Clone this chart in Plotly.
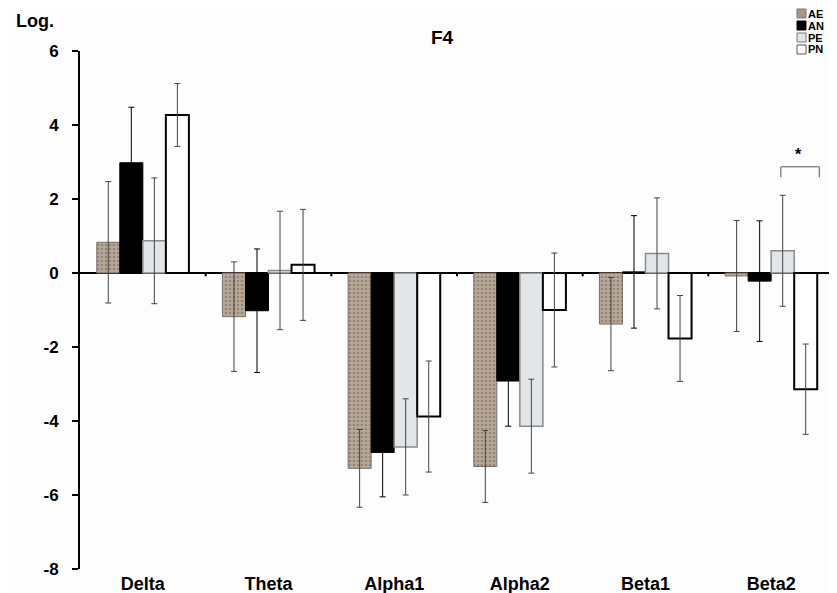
import plotly.graph_objects as go

categories = ["Delta", "Theta", "Alpha1", "Alpha2", "Beta1", "Beta2"]
series_names = ["AE", "AN", "PE", "PN"]
ae_values = [0.83, -1.18, -5.28, -5.23, -1.38, -0.08]
an_values = [2.98, -1.02, -4.85, -2.92, 0.03, -0.22]
pe_values = [0.87, 0.07, -4.70, -4.14, 0.53, 0.60]
pn_values = [4.27, 0.22, -3.88, -1.00, -1.77, -3.14]
ae_errors = [1.64, 1.48, 1.05, 0.97, 1.26, 1.50]
an_errors = [1.50, 1.67, 1.20, 1.22, 1.52, 1.63]
pe_errors = [1.70, 1.60, 1.30, 1.27, 1.50, 1.50]
pn_errors = [0.85, 1.50, 1.50, 1.54, 1.16, 1.22]
y_ticks = [-8, -6, -4, -2, 0, 2, 4, 6]

FONT = "Liberation Sans, Arial, sans-serif"

styles = {
    "AE": dict(color="#b3a393", line=dict(color="#7a7068", width=1),
               pattern=dict(shape=".", fgcolor="#6f6257", bgcolor="#b8a898", size=4, solidity=0.35)),
    "AN": dict(color="#000000", line=dict(color="#000000", width=1)),
    "PE": dict(color="#e3e6e9", line=dict(color="#8a8a8a", width=1.5)),
    "PN": dict(color="#ffffff", line=dict(color="#000000", width=2)),
}
err_colors = {"AE": "#444444", "AN": "#000000", "PE": "#444444", "PN": "#444444"}
legend_colors = {"AE": "#a89887", "AN": "#000000", "PE": "#e3e6e9", "PN": "#ffffff"}
legend_lines = {"AE": "#777777", "AN": "#000000", "PE": "#777777", "PN": "#555555"}

values = [ae_values, an_values, pe_values, pn_values]
errors = [ae_errors, an_errors, pe_errors, pn_errors]

fig = go.Figure()
for name, vals, errs in zip(series_names, values, errors):
    fig.add_trace(go.Bar(
        x=categories, y=vals, name=name,
        marker=styles[name],
        error_y=dict(type="data", array=errs, visible=True, color=err_colors[name], thickness=1, width=3),
        showlegend=False,
    ))

# the page body has an 8px margin; work in page pixels and shift
OFF = 8
FIG_W, FIG_H = 837 - OFF, 593 - OFF
L, R, T, B = 80, 835, 51, 569          # plot area in page pixels
W, H = R - L, B - T

def px_x(px):
    return (px - L) / W

def px_y(py):
    return (B - py) / H

shapes = []
annotations = []

# small category boundary ticks on the zero line
for i in range(len(categories)):
    shapes.append(dict(type="line", xref="x", yref="y", x0=i + 0.5, x1=i + 0.5, y0=0, y1=-0.09,
                       line=dict(color="black", width=2)))

# significance bracket on Beta2 (PE vs PN)
shapes.append(dict(type="path", xref="x", yref="y",
                   path="M 5.077,2.59 L 5.077,2.87 L 5.383,2.87 L 5.383,2.59",
                   line=dict(color="#555555", width=1)))
annotations.append(dict(x=5.214, y=3.19, xref="x", yref="y", text="<b>*</b>", showarrow=False,
                        font=dict(family=FONT, size=16, color="black")))

# custom legend
legend_rows = [13.5, 25.5, 37.5, 49.5]
for name, cy in zip(series_names, legend_rows):
    shapes.append(dict(type="rect", xref="paper", yref="paper",
                       x0=px_x(797), x1=px_x(806), y0=px_y(cy + 4.5), y1=px_y(cy - 4.5),
                       fillcolor=legend_colors[name], line=dict(color=legend_lines[name], width=1)))
    annotations.append(dict(x=px_x(807), y=px_y(cy), xref="paper", yref="paper", text="<b>%s</b>" % name,
                            showarrow=False, xanchor="left", yanchor="middle", borderpad=0,
                            font=dict(family=FONT, size=11, color="black")))

annotations.append(dict(x=px_x(14), y=px_y(21), xref="paper", yref="paper", text="<b>Log.</b>",
                        showarrow=False, xanchor="left", yanchor="middle",
                        font=dict(family=FONT, size=18, color="black")))
annotations.append(dict(x=px_x(442), y=px_y(37), xref="paper", yref="paper", text="<b>F4</b>",
                        showarrow=False, xanchor="center", yanchor="middle",
                        font=dict(family=FONT, size=19, color="black")))

fig.update_layout(
    width=FIG_W, height=FIG_H,
    margin=dict(l=L - OFF, r=837 - R, t=T - OFF, b=593 - B, autoexpand=False),
    paper_bgcolor="#fdfdfd", plot_bgcolor="#fdfdfd",
    barmode="group", bargap=0.267, bargroupgap=0,
    shapes=shapes, annotations=annotations,
    font=dict(family=FONT, color="black"),
)
fig.update_xaxes(
    showline=False, showgrid=False, zeroline=False, ticks="",
    tickfont=dict(family=FONT, size=18, color="black"),
    tickprefix="<b>", ticksuffix="</b>",
    ticklabelstandoff=2, automargin=False,
)
fig.update_yaxes(
    range=[-8, 6], tickvals=y_ticks, ticktext=["<b>%d</b>" % v for v in y_ticks],
    showline=True, linecolor="black", linewidth=2,
    ticks="outside", ticklen=6, tickwidth=2, tickcolor="black",
    showgrid=False, zeroline=True, zerolinecolor="black", zerolinewidth=2,
    tickfont=dict(family=FONT, size=17, color="black"),
    ticklabelstandoff=10, automargin=False,
)

fig.write_html("out.html")
